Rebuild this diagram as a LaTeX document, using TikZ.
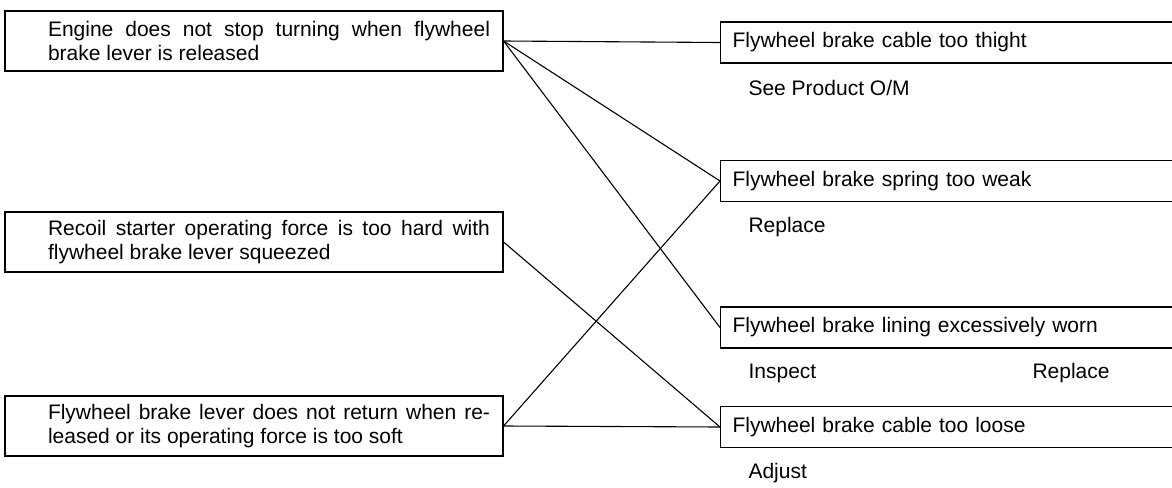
\documentclass[tikz,border=0pt]{standalone}
\usepackage{fontspec}
\setmainfont{Liberation Sans}

\begin{document}
\begin{tikzpicture}[x=1pt, y=-1pt, line width=1.1pt,
    every node/.style={font=\fontsize{21}{23.5}\selectfont},
    leftbox/.style={draw, minimum width=498pt, minimum height=60pt, inner sep=0pt},
    lefttext/.style={text width=442pt, align=justify, inner sep=0pt},
    rightbox/.style={draw, anchor=west, text width=440pt, align=left, inner xsep=12pt, minimum height=41pt},
    remedy/.style={anchor=west, inner sep=0pt}]
			\useasboundingbox (0,0) rectangle (1172,487);
			% symptoms
			\node[leftbox] (e1) at (254,41) {};
			\node[lefttext] (t1) at (269,41) {Engine does not stop turning when flywheel\linebreak brake lever is released};
			\node[leftbox] (e2) at (254,242) {};
			\node[lefttext] (t2) at (269,242) {Recoil starter operating force is too hard with\linebreak flywheel brake lever squeezed};
			\node[leftbox] (e3) at (254,426) {};
			\node[lefttext] (t3) at (269,426) {Flywheel brake lever does not return when re-\linebreak leased or its operating force is too soft};
			% causes
			\node[rightbox] (ca) at (720,42.5) {Flywheel brake cable too thight};
			\node[rightbox] (cb) at (720,181) {Flywheel brake spring too weak};
			\node[rightbox] (cc) at (720,327.5) {Flywheel brake lining excessively worn};
			\node[rightbox] (cd) at (720,427) {Flywheel brake cable too loose};
			% remedies
			\node[remedy] (ra) at (748,88) {See Product O/M};
			\node[remedy] (rb) at (748,227) {Replace};
			\node[remedy] (rc1) at (748,373) {Inspect};
			\node[remedy] (rc2) at (1032,373) {Replace};
			\node[remedy] (rd) at (748,473) {Adjust};
			% links
			\draw (e1.east) -- (ca.west);
			\draw (e1.east) -- (cb.west);
			\draw (e1.east) -- (cc.west);
			\draw (e2.east) -- (cd.west);
			\draw (e3.east) -- (cd.west);
			\draw (e3.east) -- (cb.west);
\end{tikzpicture}
\end{document}
